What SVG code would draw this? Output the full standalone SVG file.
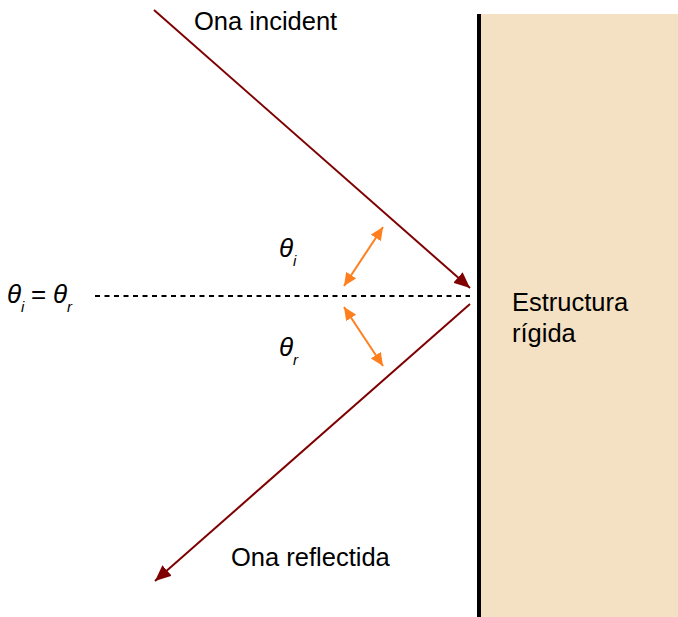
<svg xmlns="http://www.w3.org/2000/svg" width="678" height="617" viewBox="0 0 678 617">
<style>
text { font-family: "Liberation Sans", Arial, sans-serif; font-size: 25.5px; fill: #000; }
.th { font-style: italic; font-size: 26px; }
.sub { font-size: 15px; font-style: italic; }
.wave { stroke: #7F0000; stroke-width: 2; fill: none; }
.ang { stroke: #FF7F1E; stroke-width: 2; fill: none; }
</style>
<defs>
<marker id="ah" markerUnits="userSpaceOnUse" markerWidth="16" markerHeight="14" refX="16" refY="7" orient="auto">
<path d="M0,0 L16,7 L0,14 z" fill="#7F0000"/>
</marker>
<marker id="oh" markerUnits="userSpaceOnUse" markerWidth="13" markerHeight="12" refX="13" refY="6" orient="auto-start-reverse">
<path d="M0,0 L13,6 L0,12 z" fill="#FF7F1E"/>
</marker>
</defs>
<g id="wall">
<rect x="481" y="14" width="197" height="603" fill="#F4E0C2"/>
<line x1="479" y1="14" x2="479" y2="617" stroke="#000" stroke-width="4"/>
<text x="512" y="311">Estructura</text>
<text x="512" y="342">rígida</text>
</g>
<g id="connectors">
<line class="wave" x1="154" y1="10" x2="470" y2="288" marker-end="url(#ah)"/>
<line class="wave" x1="470" y1="304" x2="155" y2="581" marker-end="url(#ah)"/>
<line x1="95" y1="296" x2="470" y2="296" stroke="#000" stroke-width="2" stroke-dasharray="5,4.5"/>
<line class="ang" x1="383" y1="227" x2="344" y2="286" marker-start="url(#oh)" marker-end="url(#oh)"/>
<line class="ang" x1="344" y1="307" x2="383" y2="366" marker-start="url(#oh)" marker-end="url(#oh)"/>
</g>
<g id="labels">
<text x="194" y="30">Ona incident</text>
<text x="231" y="566">Ona reflectida</text>
<text x="279" y="257" class="th">θ<tspan class="sub" dy="9">i</tspan></text>
<text x="279" y="356" class="th">θ<tspan class="sub" dy="9">r</tspan></text>
<text x="7" y="303" class="th">θ<tspan class="sub" dy="9">i</tspan><tspan dy="-9" font-style="normal" x="31">=</tspan><tspan x="53">θ</tspan><tspan class="sub" dy="9">r</tspan></text>
</g>
</svg>
